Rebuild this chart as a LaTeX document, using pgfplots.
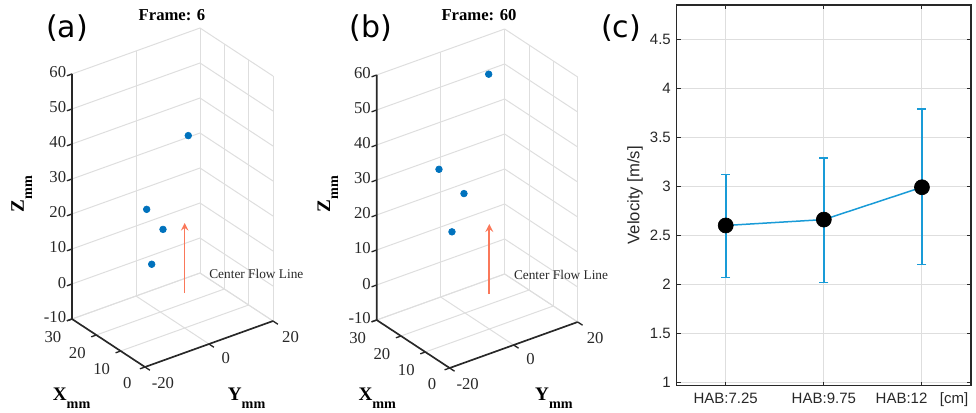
\documentclass[border=0pt]{standalone}
\usepackage{pgfplots}
\pgfplotsset{compat=1.18}
\usepackage{fontspec}
\setmainfont{Liberation Serif}
\newfontfamily\arial{Liberation Sans}
\newfontfamily\dejavu{DejaVu Sans}
\definecolor{mblue}{RGB}{0,114,189}
\definecolor{eblue}{RGB}{25,155,215}
\definecolor{coral}{RGB}{250,120,90}
\definecolor{gridgray}{RGB}{222,222,222}
\definecolor{axgray}{RGB}{40,40,40}
\newcommand{\lab}[1]{{\fontsize{11.5}{12}\selectfont\bfseries #1}\raisebox{-4.8pt}{\fontsize{8.5}{9}\selectfont\bfseries mm}}
\newcommand{\axlines}{%
  \addplot3[axgray, line width=1pt, no marks, forget plot] coordinates {(30,-20,60) (30,-20,-10) (0,-20,-10) (0,20,-10)};
  \pgfplotsinvokeforeach{-10,0,10,20,30,40,50,60}{\addplot3[axgray, line width=0.8pt, no marks, forget plot] coordinates {(30,-20,##1) (30,-21.6,##1)};}
  \pgfplotsinvokeforeach{0,10,20,30}{\addplot3[axgray, line width=0.8pt, no marks, forget plot] coordinates {(##1,-20,-10) (##1,-21.6,-10)};}
  \pgfplotsinvokeforeach{-20,0,20}{\addplot3[axgray, line width=0.8pt, no marks, forget plot] coordinates {(0,##1,-10) (-2,##1,-10)};}
}
\pgfplotsset{
  threed/.style={
    anchor=south west,
    x dir=reverse,
    x={(1.46pt,-0.96pt)}, y={(1.92pt,0.69pt)}, z={(0pt,2.1pt)},
    xmin=0,xmax=30,ymin=-20,ymax=20,zmin=-10,zmax=60,
    xtick={0,10,20,30}, ytick={-20,0,20}, ztick={-10,0,...,60},
    grid=major, major grid style={gridgray, line width=0.6pt},
    axis line style={draw=none},
    major tick length=0pt,
    tick label style={font=\fontsize{10}{11}\selectfont, text=axgray},
    xticklabel style={xshift=-5.4pt, yshift=-2pt},
    yticklabel style={xshift=6pt, yshift=-1pt},
    /pgf/number format/assume math mode=true,
    clip=false,
  },
}
\begin{document}
\begin{tikzpicture}
\path[use as bounding box] (0,0) rectangle (585.6pt,247.2pt);
% ---------- (a)
\begin{axis}[threed, at={(43.2pt,27pt)}]
\axlines
\addplot3[coral, line width=1pt, -stealth] coordinates {(10,0,0) (10,0,20)};
\addplot3[only marks, mark=*, mark size=2pt, mblue] coordinates {
(10,1.13,44.6) (10,-11.87,27.8) (10,-6.77,20.4) (10,-10.3,11.6)};
\node[anchor=west, inner sep=0pt, font=\fontsize{8}{9}\selectfont, text=axgray] at (axis cs:0,0,10) {Center Flow Line};
\end{axis}
% ---------- (b)
\begin{axis}[threed, at={(226pt,26.4pt)}]
\axlines
\addplot3[coral, line width=1.1pt, -stealth] coordinates {(10,0,0) (10,0,20)};
\addplot3[only marks, mark=*, mark size=2pt, mblue] coordinates {
(20,7.4,55.8) (10,-15.74,40.8) (10,-7.93,31.3) (10,-11.68,21.6)};
\node[anchor=west, inner sep=0pt, font=\fontsize{8}{9}\selectfont, text=axgray] at (axis cs:0,0,10) {Center Flow Line};
\end{axis}
% ---------- (c)
\begin{axis}[at={(406pt,15.8pt)}, anchor=south west, scale only axis,
  width=176.6pt, height=228.4pt,
  xmin=0.5, xmax=3.5, ymin=0.965, ymax=4.85,
  xtick={1,2,3}, xticklabels={HAB:7.25,HAB:9.75,HAB:12\hspace{5pt} [cm]},
  ytick={1,1.5,...,4.5},
  grid=major, major grid style={gridgray, line width=0.6pt},
  axis line style={axgray, line width=0.7pt},
  tick align=inside, major tick length=2.5pt, tick style={axgray, line width=0.6pt},
  tick label style={font=\arial\fontsize{9}{10}\selectfont, text=axgray},
  xticklabel style={text height=1.6ex, text depth=0.3ex},
  /pgf/number format/assume math mode=true,
  ylabel={Velocity [m/s]},
  ylabel style={font=\arial\fontsize{10}{12}\selectfont, text=axgray, at={(axis description cs:-0.1416,0.5)}, anchor=center},
]
\addplot[eblue, line width=0.9pt, no markers,
  error bars/.cd, y dir=both, y explicit,
  error bar style={draw=eblue, line width=1pt},
  error mark options={draw=eblue, rotate=90, mark size=2.7pt, line width=0.9pt}]
  coordinates {(1,2.60) += (0,0.52) -= (0,0.53)
               (2,2.66) += (0,0.63) -= (0,0.64)
               (3,2.99) += (0,0.80) -= (0,0.79)};
\addplot[only marks, mark=*, mark size=4.5pt, black] coordinates {(1,2.60) (2,2.66) (3,2.99)};
\end{axis}
% ---------- labels
\node[font=\dejavu\fontsize{18}{20}\selectfont, text=black] at (40.2pt,230.4pt) {(a)};
\node[font=\dejavu\fontsize{18}{20}\selectfont, text=black] at (222.6pt,230.4pt) {(b)};
\node[font=\dejavu\fontsize{18}{20}\selectfont, text=black] at (372.6pt,230.4pt) {(c)};
\node[font=\fontsize{10}{12}\selectfont\bfseries] at (103.2pt,238.2pt) {Frame: 6};
\node[font=\fontsize{10}{12}\selectfont\bfseries] at (287.4pt,238.2pt) {Frame: 60};
\node[anchor=base west] at (28.2pt,7.2pt) {\lab{X}};
\node[anchor=base west] at (133.2pt,7.2pt) {\lab{Y}};
\node[anchor=base west] at (211.6pt,7.2pt) {\lab{X}};
\node[anchor=base west] at (317.6pt,7.2pt) {\lab{Y}};
\node[anchor=base west, rotate=90] at (14.4pt,116.4pt) {\lab{Z}};
\node[anchor=base west, rotate=90] at (198pt,116.4pt) {\lab{Z}};
\end{tikzpicture}
\end{document}
